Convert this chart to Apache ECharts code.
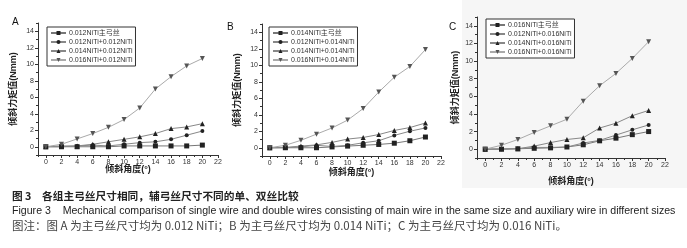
<!DOCTYPE html>
<html>
<head>
<meta charset="utf-8">
<script src="https://cdn.jsdelivr.net/npm/echarts@6/dist/echarts.min.js"></script>
<style>
  html, body { margin: 0; padding: 0; background: #fff; }
  #chart { width: 687px; height: 248px; }
</style>
</head>
<body>
<div id="chart"></div>
<script>
// 倾斜角度 (°)
const angles = [0, 2, 4, 6, 8, 10, 12, 14, 16, 18, 20];

// 图 A: 主弓丝 0.012 NiTi
const aNames = ['0.012NiTi主弓丝', '0.012NiTi+0.012NiTi', '0.014NiTi+0.012NiTi', '0.016NiTi+0.012NiTi'];
const aMain = [0, 0, 0, 0, 0, 0.1, 0.1, 0.1, 0.1, 0.1, 0.2];
const a012 = [0, 0, 0.1, 0.2, 0.1, 0.3, 0.5, 0.6, 0.9, 1.4, 1.9];
const a014 = [0, 0.1, 0.1, 0.3, 0.6, 0.9, 1.2, 1.6, 2.2, 2.4, 2.8];
const a016 = [0, 0.3, 0.95, 1.6, 2.35, 3.3, 4.7, 7.0, 8.5, 9.8, 10.7];

// 图 B: 主弓丝 0.014 NiTi
const bNames = ['0.014NiTi主弓丝', '0.012NiTi+0.014NiTi', '0.014NiTi+0.014NiTi', '0.016NiTi+0.014NiTi'];
const bMain = [0, 0, 0, 0, 0.1, 0.2, 0.3, 0.4, 0.55, 0.85, 1.3];
const b012 = [0, 0, 0.1, 0.3, 0.15, 0.3, 0.6, 0.85, 1.5, 2.0, 2.4];
const b014 = [0, 0.05, 0.2, 0.35, 0.65, 1.05, 1.25, 1.6, 2.1, 2.45, 3.0];
const b016 = [0, 0.3, 0.9, 1.65, 2.4, 3.35, 4.75, 6.75, 8.55, 9.85, 11.9];

// 图 C: 主弓丝 0.016 NiTi
const cNames = ['0.016NiTi主弓丝', '0.012NiTi+0.016NiTi', '0.014NiTi+0.016NiTi', '0.016NiTi+0.016NiTi'];
const cMain = [0, 0, 0.05, 0.1, 0.15, 0.25, 0.5, 0.95, 1.25, 1.65, 2.0];
const c012 = [0, 0, 0.05, 0.2, 0.2, 0.25, 0.7, 1.0, 1.6, 2.2, 2.75];
const c014 = [0, 0.05, 0.05, 0.35, 0.75, 1.1, 1.3, 2.4, 2.95, 3.8, 4.4];
const c016 = [0, 0.45, 1.1, 1.9, 2.65, 3.4, 5.45, 7.2, 8.6, 10.3, 12.2];

const xMajor = [0, 2, 4, 6, 8, 10, 12, 14, 16, 18, 20, 22];
const xMinor = [-1, 1, 3, 5, 7, 9, 11, 13, 15, 17, 19, 21];
const yMajor = [0, 2, 4, 6, 8, 10, 12, 14];
const yMinor = [-1, 1, 3, 5, 7, 9, 11, 13, 15];

const panelTitles = ['A', 'B', 'C'];
const xName = '倾斜角度(°)';
const yName = '倾斜力矩值(Nmm)';

const symbols = ['rect', 'circle', 'triangle', 'triangle'];
const rotates = [0, 0, 0, 180];
const lineColors = ['#777', '#888', '#888', '#aaa'];

const CJK = '"Liberation Sans", "Noto Sans CJK SC", sans-serif';

// 图区位置
const panels = [
  {grid: {left: 38, top: 23, width: 180, height: 132}, xGap: 10, yGap: 20, legend: {left: 47, top: 27}, title: [15, 22]},
  {grid: {left: 262, top: 24, width: 179, height: 132}, xGap: 12, yGap: 20, legend: {left: 269, top: 27}, title: [230, 27]},
  {grid: {left: 477, top: 17, width: 188, height: 141}, xGap: 19, yGap: 17, legend: {left: 486, top: 19}, title: [452, 27]}
];
const panelData = [
  [aNames, [aMain, a012, a014, a016]],
  [bNames, [bMain, b012, b014, b016]],
  [cNames, [cMain, c012, c014, c016]]
];

const grid = [], xAxis = [], yAxis = [], series = [], legend = [];
const graphic = [
  {type: 'rect', shape: {x: 462, y: 0, width: 225, height: 188}, style: {fill: '#f6f6f6'}, z: -10}
];

panels.forEach((p, i) => {
  grid.push(p.grid);
  // 主刻度轴
  xAxis.push({
    type: 'value', gridIndex: i, min: -1, max: 22, position: 'bottom',
    name: xName, nameLocation: 'middle', nameGap: p.xGap, nameMoveOverlap: false,
    nameTextStyle: {fontSize: 9, color: '#222', fontFamily: CJK, fontWeight: 'bold'},
    axisLine: {show: true, onZero: false, lineStyle: {color: '#333', width: 1}},
    axisTick: {show: true, length: 3, customValues: xMajor, lineStyle: {color: '#333'}},
    axisLabel: {fontSize: 7, color: '#333', margin: 4, customValues: xMajor},
    splitLine: {show: false}
  });
  // 次刻度轴
  xAxis.push({
    type: 'value', gridIndex: i, min: -1, max: 22, position: 'bottom',
    axisLine: {show: false, onZero: false},
    axisTick: {show: true, length: 2, customValues: xMinor, lineStyle: {color: '#333'}},
    axisLabel: {show: false},
    splitLine: {show: false}
  });
  yAxis.push({
    type: 'value', gridIndex: i, min: -1, max: 15, position: 'left',
    name: yName, nameLocation: 'middle', nameGap: p.yGap, nameMoveOverlap: false,
    nameTextStyle: {fontSize: 9, color: '#222', fontFamily: CJK, fontWeight: 'bold'},
    axisLine: {show: true, onZero: false, lineStyle: {color: '#333', width: 1}},
    axisTick: {show: true, length: 3, customValues: yMajor, lineStyle: {color: '#333'}},
    axisLabel: {fontSize: 7, color: '#333', margin: 4, customValues: yMajor},
    splitLine: {show: false}
  });
  yAxis.push({
    type: 'value', gridIndex: i, min: -1, max: 15, position: 'left',
    axisLine: {show: false, onZero: false},
    axisTick: {show: true, length: 2, customValues: yMinor, lineStyle: {color: '#333'}},
    axisLabel: {show: false},
    splitLine: {show: false}
  });

  const [names, vals] = panelData[i];
  names.forEach((name, k) => {
    series.push({
      name: name,
      type: 'line',
      xAxisIndex: 2 * i,
      yAxisIndex: 2 * i,
      data: angles.map((a, j) => [a, vals[k][j]]),
      symbol: symbols[k],
      symbolRotate: rotates[k],
      symbolSize: k === 1 ? 4 : 5,
      showAllSymbol: true,
      itemStyle: {color: k === 3 ? '#555' : '#222'},
      lineStyle: {color: lineColors[k], width: 1},
      animation: false
    });
  });

  legend.push({
    data: names,
    orient: 'vertical',
    left: p.legend.left,
    top: p.legend.top,
    itemWidth: 15,
    itemHeight: 5,
    itemGap: 1,
    padding: [2, 3, 2, 3],
    borderColor: '#333',
    borderWidth: 1,
    backgroundColor: '#fff',
    selectedMode: false,
    textStyle: {fontSize: 7, color: '#333', fontFamily: CJK, lineHeight: 8, padding: [0, 0, 0, -2]}
  });

  graphic.push({
    type: 'text', left: p.title[0] - 3, top: p.title[1] - 5,
    style: {text: panelTitles[i], font: '10px "Liberation Sans", sans-serif', fill: '#111'}
  });
});

// 图注
graphic.push(
  {type: 'text', left: 12, top: 191,
   style: {text: '图 3　各组主弓丝尺寸相同，辅弓丝尺寸不同的单、双丝比较', font: 'bold 10.7px "Noto Sans CJK SC", sans-serif', fill: '#222'}},
  {type: 'text', left: 12, top: 206,
   style: {text: 'Figure 3    Mechanical comparison of single wire and double wires consisting of main wire in the same size and auxiliary wire in different sizes',
           font: '10.6px "Liberation Sans", sans-serif', fill: '#222'}},
  {type: 'text', left: 12, top: 220,
   style: {text: '图注：图 A 为主弓丝尺寸均为 0.012 NiTi；B 为主弓丝尺寸均为 0.014 NiTi；C 为主弓丝尺寸均为 0.016 NiTi。',
           font: '11.5px "Noto Sans CJK SC", sans-serif', fill: '#444'}}
);

const chart = echarts.init(document.getElementById('chart'));
chart.setOption({
  animation: false,
  backgroundColor: '#fff',
  grid: grid,
  xAxis: xAxis,
  yAxis: yAxis,
  legend: legend,
  series: series,
  graphic: graphic
});
</script>
</body>
</html>
